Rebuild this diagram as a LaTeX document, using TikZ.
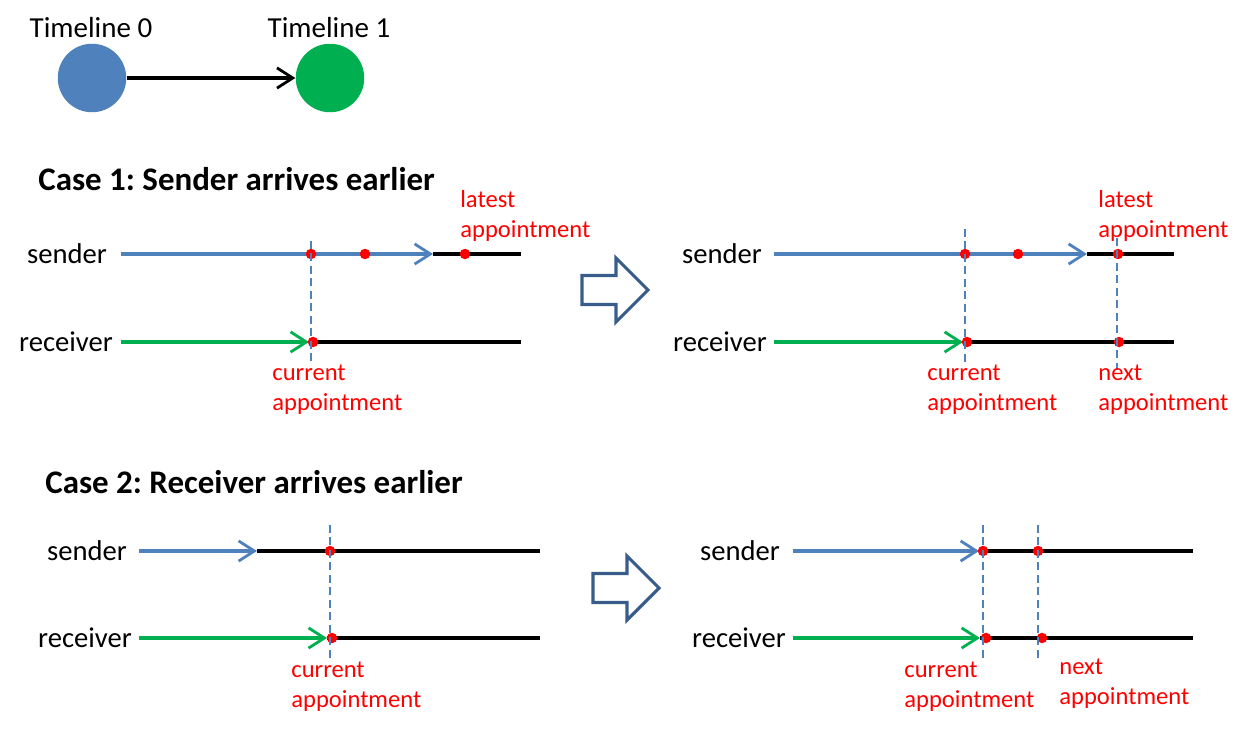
\documentclass[tikz,border=0pt]{standalone}
\usepackage{fontspec}
\setmainfont{Carlito}
\usetikzlibrary{arrows.meta}
\frenchspacing

\definecolor{lineblue}{RGB}{79,129,189}
\definecolor{linegreen}{RGB}{0,176,80}
\definecolor{shapeblue}{RGB}{56,93,138}

\tikzset{
    barb/.style={-{Straight Barb[length=9pt,width=11.5pt,line width=1.6pt]}},
    sendline/.style={draw=lineblue, line width=2pt, barb},
    recvline/.style={draw=linegreen, line width=2pt, barb},
    restline/.style={draw=black, line width=2pt},
    mark line/.style={draw=lineblue, line width=1.3pt, dash pattern=on 4.5pt off 2.6pt},
    dot/.style={circle, fill=red, inner sep=0pt, minimum size=0.21cm},
    who/.style={font=\fontsize{16.3}{19}\selectfont, inner sep=0pt},
    tag/.style={font=\fontsize{14}{17}\selectfont, text=red, align=left, anchor=west, inner sep=0pt},
    casetitle/.style={font=\fontsize{18.75}{22}\selectfont\bfseries, anchor=west, inner sep=0pt},
    blockarrow/.pic={
        \draw[draw=shapeblue, line width=1.8pt, line join=miter]
            (0,-14.5) -- (34,-14.5) -- (34,-32) -- (66,0) -- (34,32) -- (34,14.5) -- (0,14.5) -- cycle;
    }
}

\begin{document}
\begin{tikzpicture}[x=0.02cm, y=-0.02cm]
        \useasboundingbox (0,0) rectangle (1246,729);

        % Timelines
        \node[circle, fill=lineblue, minimum size=1.37cm, inner sep=0pt] (tl0) at (92,78) {};
        \node[circle, fill=linegreen, minimum size=1.37cm, inner sep=0pt] (tl1) at (330,78) {};
        \node[who, font=\fontsize{16.5}{19}\selectfont] (tl0name) at (91,28) {Timeline 0};
        \node[who, font=\fontsize{16.5}{19}\selectfont] (tl1name) at (329,28) {Timeline 1};
        \draw[line width=2pt, barb] (tl0) -- (tl1);

        % Case 1
        \node[casetitle] (case1) at (38,179) {Case 1: Sender arrives earlier};

        \node[who] (snd1) at (67,254) {sender};
        \node[who] (rcv1) at (66,342) {receiver};
        \coordinate (snd1a) at (121,254);
        \coordinate (snd1b) at (433,254);
        \coordinate (snd1c) at (521,254);
        \coordinate (rcv1a) at (121,342);
        \coordinate (rcv1b) at (309,342);
        \coordinate (rcv1c) at (521,342);
        \draw[sendline] (snd1a) -- (snd1b);
        \draw[restline] (snd1b) -- (snd1c);
        \draw[recvline] (rcv1a) -- (rcv1b);
        \draw[restline] (rcv1b) -- (rcv1c);
        \node[dot] (snd1p1) at (311,254) {};
        \node[dot] (snd1p2) at (365,254) {};
        \node[dot] (snd1p3) at (465,254) {};
        \node[dot] (rcv1p1) at (313,342) {};
        \coordinate (mark1top) at (311,241);
        \coordinate (mark1bot) at (311,363);
        \draw[mark line] (mark1top) -- (mark1bot);
        \node[tag] (latest1) at (460,216) {latest\\appointment};
        \node[tag] (current1) at (272,390) {current\\appointment};

        \pic (next1) at (582,290) {blockarrow};

        \node[who] (snd1r) at (722,254) {sender};
        \node[who] (rcv1r) at (720,342) {receiver};
        \coordinate (snd1ra) at (774,254);
        \coordinate (snd1rb) at (1087,254);
        \coordinate (snd1rc) at (1174,254);
        \coordinate (rcv1ra) at (774,342);
        \coordinate (rcv1rb) at (963,342);
        \coordinate (rcv1rc) at (1174,342);
        \draw[sendline] (snd1ra) -- (snd1rb);
        \draw[restline] (snd1rb) -- (snd1rc);
        \draw[recvline] (rcv1ra) -- (rcv1rb);
        \draw[restline] (rcv1rb) -- (rcv1rc);
        \node[dot] (snd1rp1) at (965,254) {};
        \node[dot] (snd1rp2) at (1018,254) {};
        \node[dot] (snd1rp3) at (1118,254) {};
        \node[dot] (rcv1rp1) at (967,342) {};
        \node[dot] (rcv1rp2) at (1119,342) {};
        \coordinate (mark2top) at (965,229);
        \coordinate (mark2bot) at (965,363);
        \coordinate (mark3top) at (1117,238);
        \coordinate (mark3bot) at (1117,370);
        \draw[mark line] (mark2top) -- (mark2bot);
        \draw[mark line] (mark3top) -- (mark3bot);
        \node[tag] (latest1r) at (1098,216) {latest\\appointment};
        \node[tag] (current1r) at (927,390) {current\\appointment};
        \node[tag] (next1r) at (1098,390) {next\\appointment};

        % Case 2
        \node[casetitle] (case2) at (45,482) {Case 2: Receiver arrives earlier};

        \node[who] (snd2) at (87,551) {sender};
        \node[who] (rcv2) at (85,638) {receiver};
        \coordinate (snd2a) at (139,551);
        \coordinate (snd2b) at (257,551);
        \coordinate (snd2c) at (540,551);
        \coordinate (rcv2a) at (139,638);
        \coordinate (rcv2b) at (327,638);
        \coordinate (rcv2c) at (540,638);
        \draw[sendline] (snd2a) -- (snd2b);
        \draw[restline] (snd2b) -- (snd2c);
        \draw[recvline] (rcv2a) -- (rcv2b);
        \draw[restline] (rcv2b) -- (rcv2c);
        \node[dot] (snd2p1) at (330,551) {};
        \node[dot] (rcv2p1) at (332,638) {};
        \coordinate (mark4top) at (330,525);
        \coordinate (mark4bot) at (330,658);
        \draw[mark line] (mark4top) -- (mark4bot);
        \node[tag] (current2) at (291,687) {current\\appointment};

        \pic (next2) at (593,588) {blockarrow};

        \node[who] (snd2r) at (740,551) {sender};
        \node[who] (rcv2r) at (739,638) {receiver};
        \coordinate (snd2ra) at (793,551);
        \coordinate (snd2rb) at (979,551);
        \coordinate (snd2rc) at (1193,551);
        \coordinate (rcv2ra) at (793,638);
        \coordinate (rcv2rb) at (980,638);
        \coordinate (rcv2rc) at (1193,638);
        \draw[sendline] (snd2ra) -- (snd2rb);
        \draw[restline] (snd2rb) -- (snd2rc);
        \draw[recvline] (rcv2ra) -- (rcv2rb);
        \draw[restline] (rcv2rb) -- (rcv2rc);
        \node[dot] (snd2rp1) at (983,551) {};
        \node[dot] (snd2rp2) at (1038,551) {};
        \node[dot] (rcv2rp1) at (986,638) {};
        \node[dot] (rcv2rp2) at (1042,638) {};
        \coordinate (mark5top) at (983,525);
        \coordinate (mark5bot) at (983,658);
        \coordinate (mark6top) at (1038,525);
        \coordinate (mark6bot) at (1038,658);
        \draw[mark line] (mark5top) -- (mark5bot);
        \draw[mark line] (mark6top) -- (mark6bot);
        \node[tag] (current2r) at (904,687) {current\\appointment};
        \node[tag] (next2r) at (1059,684) {next\\appointment};
    \end{tikzpicture}
\end{document}
